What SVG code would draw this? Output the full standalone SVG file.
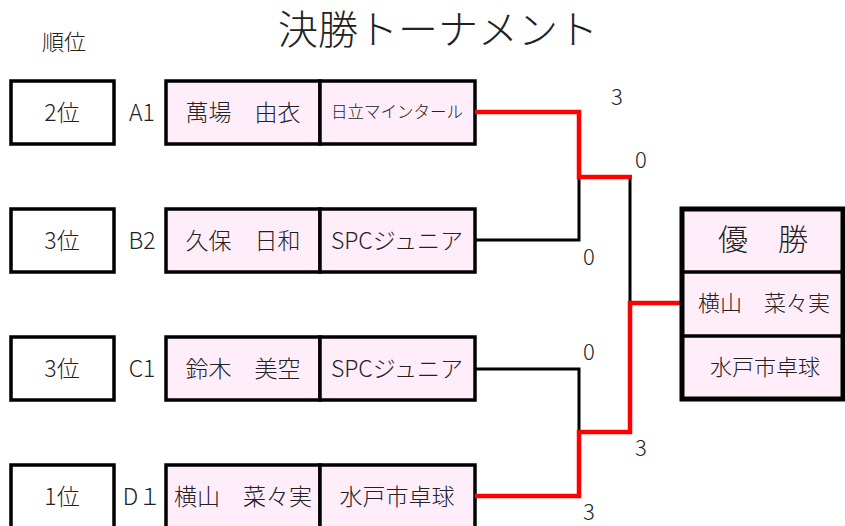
<svg xmlns="http://www.w3.org/2000/svg" width="845" height="526" viewBox="0 0 845 526">
<style>
text{font-family:"Noto Sans CJK JP","Noto Sans",sans-serif;fill:#222;text-anchor:middle;font-weight:300}
.rank{fill:#fff;stroke:#000;stroke-width:3.5}
.cell{fill:#FFEEFA;stroke:#000;stroke-width:3.5}
.t23{font-size:23px}
.t17{font-size:16.5px}
.sc{font-size:22px}
.blk{fill:none;stroke:#000;stroke-width:3}
.red{fill:none;stroke:#f00;stroke-width:4.5}
</style>
<rect width="845" height="526" fill="#fff"/>
<text x="438" y="44" style="font-size:40px;font-weight:250">決勝トーナメント</text>
<text x="64" y="50" style="font-size:22px">順位</text>

<g id="rowA1">
<rect class="rank" x="11" y="81" width="103" height="63"/>
<text class="t23" x="62" y="121">2位</text>
<text class="t23" x="142" y="121">A1</text>
<rect class="cell" x="166" y="81" width="154" height="63"/>
<rect class="cell" x="320" y="81" width="155" height="63"/>
<text class="t23" x="243" y="121">萬場　由衣</text>
<text class="t17" x="397" y="118">日立マインタール</text>
</g>
<g id="rowB2">
<rect class="rank" x="11" y="209" width="103" height="63"/>
<text class="t23" x="62" y="249">3位</text>
<text class="t23" x="142" y="249">B2</text>
<rect class="cell" x="166" y="209" width="154" height="63"/>
<rect class="cell" x="320" y="209" width="155" height="63"/>
<text class="t23" x="243" y="249">久保　日和</text>
<text class="t23" x="397" y="249">SPCジュニア</text>
</g>
<g id="rowC1">
<rect class="rank" x="11" y="337" width="103" height="63"/>
<text class="t23" x="62" y="377">3位</text>
<text class="t23" x="142" y="377">C1</text>
<rect class="cell" x="166" y="337" width="154" height="63"/>
<rect class="cell" x="320" y="337" width="155" height="63"/>
<text class="t23" x="243" y="377">鈴木　美空</text>
<text class="t23" x="397" y="377">SPCジュニア</text>
</g>
<g id="rowD1">
<rect class="rank" x="11" y="465" width="103" height="70"/>
<text class="t23" x="62" y="505">1位</text>
<text class="t23" x="142" y="505">D１</text>
<rect class="cell" x="166" y="465" width="154" height="70"/>
<rect class="cell" x="320" y="465" width="155" height="70"/>
<text class="t23" x="243" y="505">横山　菜々実</text>
<text class="t23" x="397" y="505">水戸市卓球</text>
</g>

<g id="connectors">
<polyline class="blk" points="475,240 579,240 579,177"/>
<polyline class="blk" points="630,177 630,303"/>
<polyline class="blk" points="475,369 579,369 579,432"/>
<polyline class="red" points="475,112 579,112 579,177 632,177"/>
<polyline class="red" points="475,496 579,496 579,432 630,432 630,303 681,303"/>
</g>

<g id="scores">
<text class="sc" x="617" y="105">3</text>
<text class="sc" x="641" y="168">0</text>
<text class="sc" x="589" y="265">0</text>
<text class="sc" x="589" y="360">0</text>
<text class="sc" x="641" y="456">3</text>
<text class="sc" x="589" y="520">3</text>
</g>

<g id="winner">
<rect x="682" y="209" width="161" height="190" fill="#FFEEFA" stroke="#000" stroke-width="5"/>
<line x1="682" y1="272" x2="843" y2="272" stroke="#000" stroke-width="3.5"/>
<line x1="682" y1="336" x2="843" y2="336" stroke="#000" stroke-width="3.5"/>
<text x="763" y="250" style="font-size:30px">優　勝</text>
<text x="764" y="311" style="font-size:22px">横山　菜々実</text>
<text x="765" y="375" style="font-size:22px">水戸市卓球</text>
</g>
</svg>
